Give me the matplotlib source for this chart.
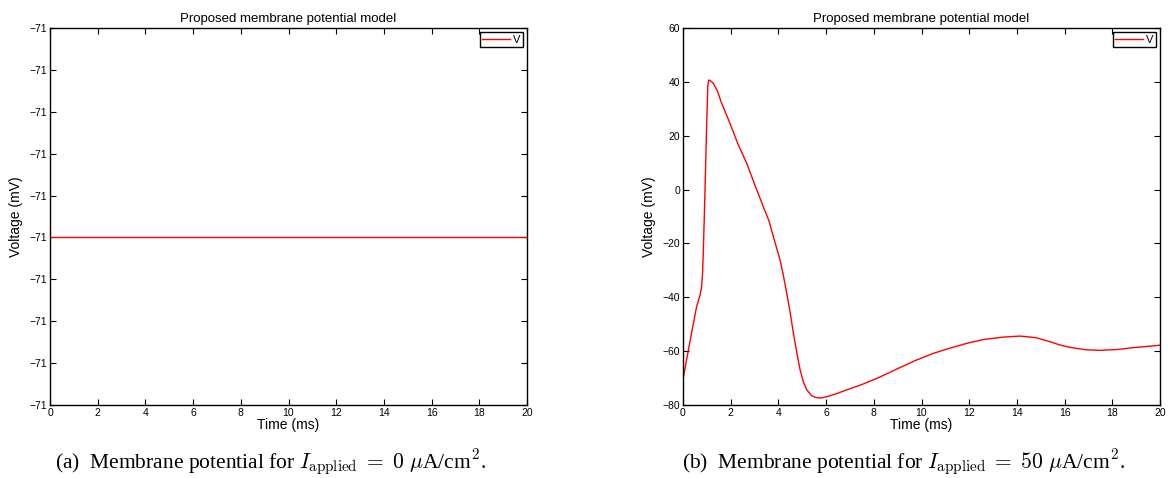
import numpy as np
import matplotlib.pyplot as plt
from matplotlib.ticker import FuncFormatter, MultipleLocator

plt.rcParams['font.family'] = ['Liberation Sans', 'DejaVu Sans']
plt.rcParams['mathtext.fontset'] = 'cm'

# panel (a): resting potential, flat line
t_rest = [0, 20]
v_rest = [-71.0, -71.0]

# panel (b): action potential
t_spike = [0.0, 0.3, 0.57, 0.72, 0.78, 0.82, 0.85, 0.92, 0.99, 1.04, 1.08, 1.15, 1.27, 1.45,
           1.6, 1.97, 2.3, 2.67, 3.0, 3.37, 3.6, 3.79, 4.07, 4.2, 4.35, 4.5, 4.63, 4.78,
           4.91, 5.05, 5.19, 5.4, 5.61, 5.8, 6.03, 6.4, 6.86, 7.5, 8.26, 9.0, 9.79, 10.5,
           11.19, 11.9, 12.59, 13.4, 14.13, 14.8, 15.39, 15.8, 16.23, 16.9, 17.48, 18.2,
           18.88, 19.5, 20.0]
v_spike = [-70.5, -56, -43.5, -39.0, -36.1, -31.0, -23.7, -1.4, 23.4, 38.5, 40.7, 40.4, 39.5,
           36.5, 32.5, 24.6, 17.0, 9.8, 2.0, -6.4, -11.5, -17.5, -26.2, -31.5, -38.5, -46.0,
           -53.4, -61.0, -67.0, -71.5, -74.4, -76.6, -77.3, -77.4, -76.9, -75.9, -74.4, -72.4,
           -69.6, -66.5, -63.3, -60.8, -58.9, -57.1, -55.7, -54.8, -54.4, -55.0, -56.5, -57.7,
           -58.6, -59.5, -59.7, -59.4, -58.7, -58.2, -57.8]

caption_a = r'(a)  Membrane potential for $I_{\mathrm{applied}}\;=\;0\ \mu$A/cm$^2$.'
caption_b = r'(b)  Membrane potential for $I_{\mathrm{applied}}\;=\;50\ \mu$A/cm$^2$.'

fig = plt.figure(figsize=(11.68, 4.78), dpi=100)
ax1 = fig.add_axes([50 / 1168, 73 / 478, 477 / 1168, 377 / 478])
ax2 = fig.add_axes([683 / 1168, 73 / 478, 477 / 1168, 377 / 478])


def style(ax):
    ax.set_xlim(0, 20)
    ax.xaxis.set_major_locator(MultipleLocator(2))
    ax.tick_params(direction='in', top=True, right=True, labelsize=7.5, length=4,
                   width=0.8, pad=2)
    for s in ax.spines.values():
        s.set_linewidth(1.0)
    ax.set_xlabel('Time (ms)', fontsize=10, labelpad=0)
    ax.set_ylabel('Voltage (mV)', fontsize=10, labelpad=5)
    ax.set_title('Proposed membrane potential model', fontsize=9.5, pad=4)
    leg = ax.legend(loc='upper right', fontsize=8, fancybox=False, framealpha=1,
                    edgecolor='black', handlelength=2.5, borderpad=0.2,
                    handletextpad=0.3, borderaxespad=0.4)
    leg.get_frame().set_linewidth(1.0)


ax1.plot(t_rest, v_rest, color='red', lw=1.0, label='V')
lo, hi = -71.0 - 4e-6, -71.0 + 5e-6
ax1.set_ylim(lo, hi)
ax1.set_yticks(np.linspace(lo, hi, 10))
ax1.yaxis.set_major_formatter(FuncFormatter(lambda v, p: '\u221271'))
style(ax1)

ax2.plot(t_spike, v_spike, color='red', lw=1.0, label='V')
ax2.set_ylim(-80, 60)
ax2.yaxis.set_major_locator(MultipleLocator(20))
ax2.yaxis.set_major_formatter(FuncFormatter(lambda v, p: f'{v:.0f}'.replace('-', '\u2212')))
style(ax2)

fig.text(270 / 1168, 1 - 463 / 478, caption_a, ha='center', va='center', fontsize=15.5,
         family='Liberation Serif')
fig.text(903 / 1168, 1 - 463 / 478, caption_b, ha='center', va='center', fontsize=15.5,
         family='Liberation Serif')

fig.savefig('out.png', dpi=100)
